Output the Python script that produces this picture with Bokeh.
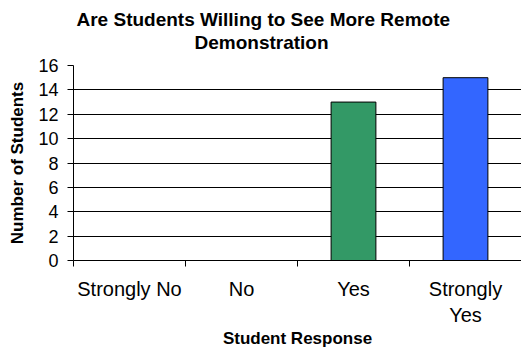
from bokeh.plotting import figure
from bokeh.models import Range1d, FixedTicker, Title
from bokeh.embed import file_html
from bokeh.resources import INLINE

categories = ["Strongly No", "No", "Yes", "Strongly Yes"]
tick_labels = ["Strongly No", "No", "Yes", "Strongly\nYes"]
counts = [0, 0, 13, 15]
bar_colors = ["#339966", "#339966", "#339966", "#3366FF"]
y_ticks = [0, 2, 4, 6, 8, 10, 12, 14, 16]
title_lines = ["Are Students Willing to See More Remote", "Demonstration"]

FONT = "Liberation Sans"
n = len(categories)
centers = [i + 0.5 for i in range(n)]

p = figure(width=521, height=350, x_range=Range1d(0, n), y_range=Range1d(0, 16),
           output_backend="svg", toolbar_location=None, title=None,
           min_border_left=73, min_border_right=0, min_border_top=65, min_border_bottom=89)
p.outline_line_color = None
p.xgrid.visible = False
p.ygrid.grid_line_color = "#000000"
p.ygrid.grid_line_width = 1
p.ygrid.ticker = FixedTicker(ticks=y_ticks)

yax = p.yaxis[0]
yax.ticker = FixedTicker(ticks=y_ticks)
yax.major_tick_out = 6
yax.major_tick_in = 0
yax.minor_tick_out = 0
yax.minor_tick_in = 0
yax.axis_line_color = "#000000"
yax.major_tick_line_color = "#000000"
yax.major_label_text_font = FONT
yax.major_label_text_font_size = "18px"
yax.major_label_text_color = "#000000"
yax.major_label_standoff = 9
yax.axis_label = "Number of Students"
yax.axis_label_text_font = FONT
yax.axis_label_text_font_size = "17px"
yax.axis_label_text_font_style = "bold"
yax.axis_label_text_color = "#000000"
yax.axis_label_standoff = 8

xax = p.xaxis[0]
xax.ticker = FixedTicker(ticks=centers, minor_ticks=list(range(n + 1)))
xax.major_label_overrides = {c: lab for c, lab in zip(centers, tick_labels)}
xax.major_tick_out = 0
xax.major_tick_in = 0
xax.minor_tick_out = 6
xax.minor_tick_in = 0
xax.minor_tick_line_color = "#000000"
xax.axis_line_color = "#000000"
xax.major_label_text_font = FONT
xax.major_label_text_font_size = "20px"
xax.major_label_text_color = "#000000"
xax.major_label_standoff = 11
xax.axis_label = "Student Response"
xax.axis_label_text_font = FONT
xax.axis_label_text_font_size = "17px"
xax.axis_label_text_font_style = "bold"
xax.axis_label_text_color = "#000000"
xax.axis_label_standoff = 0

p.vbar(x=centers, top=counts, width=0.4, fill_color=bar_colors,
       line_color="#000000", line_width=1)

# second line first (closest to the frame), then first line above it
for lab, off, so in zip(reversed(title_lines), [121, 3], [26, -26]):
    p.add_layout(Title(text=lab, align="left", offset=off, standoff=so,
                       text_font=FONT, text_font_size="19px", text_font_style="bold",
                       text_color="#000000"), "above")

open("out.html", "w").write(file_html(p, INLINE))
